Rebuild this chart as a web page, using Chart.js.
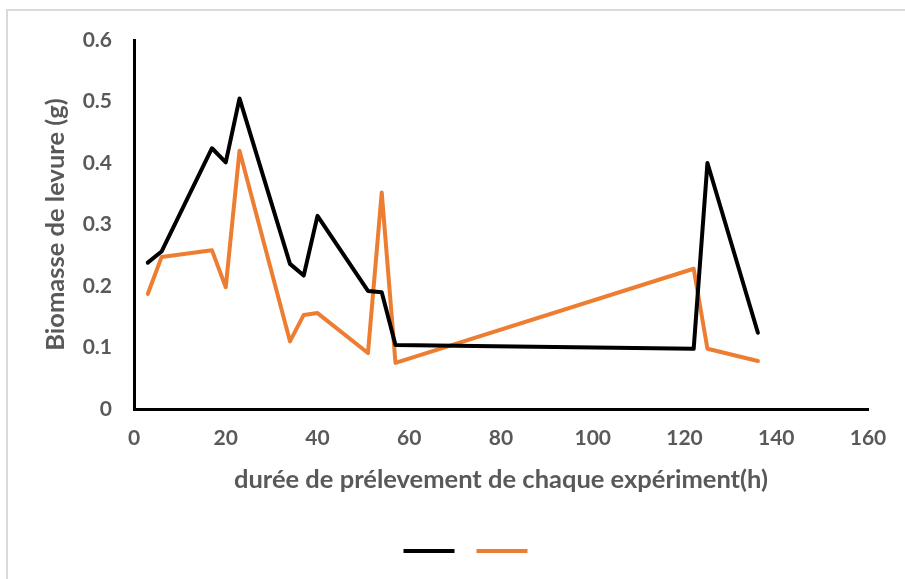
<!DOCTYPE html>
<html lang="fr">
<head>
<meta charset="utf-8">
<title>Biomasse de levure</title>
<script src="https://cdn.jsdelivr.net/npm/chart.js@4/dist/chart.umd.min.js"></script>
<style>
  html, body { margin: 0; padding: 0; background: #ffffff; }
  #frame {
    position: absolute; left: 6px; top: 9px; width: 920px; height: 600px;
    border-left: 2px solid #d9d9d9; border-top: 2px solid #d9d9d9;
  }
  #chart { position: absolute; left: 0; top: 0; }
</style>
</head>
<body>
<div id="frame"></div>
<canvas id="chart" width="905" height="579"></canvas>
<script>
// Sampling times (hours) and yeast biomass (g) for the two runs
const hours = [3, 6, 17, 20, 23, 34, 37, 40, 51, 54, 57, 122, 125, 136];
const biomassRun1 = [0.238, 0.256, 0.424, 0.401, 0.505, 0.236, 0.217, 0.314, 0.192, 0.190, 0.104, 0.098, 0.400, 0.124];
const biomassRun2 = [0.187, 0.247, 0.258, 0.198, 0.420, 0.110, 0.153, 0.156, 0.091, 0.352, 0.075, 0.228, 0.098, 0.078];
const xTicks = [0, 20, 40, 60, 80, 100, 120, 140, 160];
const yTicks = [0, 0.1, 0.2, 0.3, 0.4, 0.5, 0.6];

const toPoints = vals => hours.map((h, i) => ({ x: h, y: vals[i] }));

const labelColor = '#595959';
const fontFamily = 'Lato, "Open Sans", sans-serif';

new Chart(document.getElementById('chart'), {
  type: 'line',
  data: {
    datasets: [
      {
        label: '',
        data: toPoints(biomassRun1),
        borderColor: '#000000',
        backgroundColor: '#000000',
        borderWidth: 4,
        pointRadius: 0,
        tension: 0,
        borderCapStyle: 'round',
        borderJoinStyle: 'round'
      },
      {
        label: '',
        data: toPoints(biomassRun2),
        borderColor: '#ED7D31',
        backgroundColor: '#ED7D31',
        borderWidth: 4,
        pointRadius: 0,
        tension: 0,
        borderCapStyle: 'round',
        borderJoinStyle: 'round'
      }
    ]
  },
  options: {
    responsive: false,
    animation: false,
    layout: { padding: { left: 69, right: 37, top: 40, bottom: 12 } },
    plugins: {
      tooltip: { enabled: false },
      legend: {
        display: true,
        position: 'bottom',
        labels: {
          usePointStyle: true,
          pointStyle: 'line',
          pointStyleWidth: 51,
          padding: 16,
          font: { size: 12, family: fontFamily }
        }
      }
    },
    scales: {
      x: {
        type: 'linear',
        min: 0,
        max: 160,
        afterBuildTicks: s => { s.ticks = xTicks.map(v => ({ value: v })); },
        afterFit: s => { s.height = 120; },
        grid: { display: false, drawTicks: false },
        border: { display: true, color: '#000000', width: 3 },
        ticks: {
          padding: 17,
          color: labelColor,
          font: { size: 21, weight: 'bold', family: fontFamily }
        },
        title: {
          display: true,
          text: 'durée de prélevement de chaque expériment(h)',
          color: labelColor,
          padding: { top: 0, bottom: 34 },
          font: { size: 25.5, weight: 'bold', family: fontFamily }
        }
      },
      y: {
        type: 'linear',
        min: 0,
        max: 0.6,
        afterBuildTicks: s => { s.ticks = yTicks.map(v => ({ value: v })); },
        afterFit: s => { s.width = 65; },
        grid: { display: false, drawTicks: false },
        border: { display: true, color: '#000000', width: 3 },
        ticks: {
          padding: 22,
          color: labelColor,
          font: { size: 21, weight: 'bold', family: fontFamily },
          callback: v => String(Math.round(v * 10) / 10)
        },
        title: {
          display: true,
          text: 'Biomasse de levure (g)',
          color: labelColor,
          padding: { top: -29, bottom: 0 },
          font: { size: 25.5, weight: 'bold', family: fontFamily }
        }
      }
    }
  }
});
</script>
</body>
</html>
